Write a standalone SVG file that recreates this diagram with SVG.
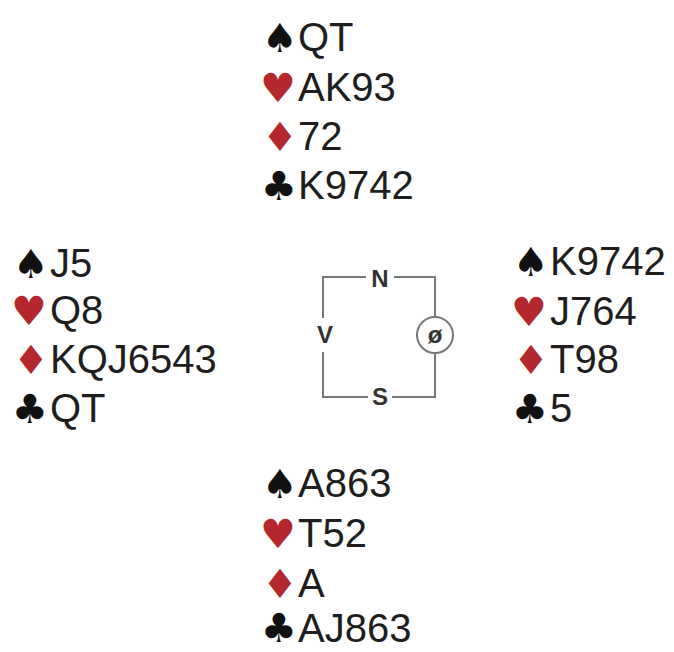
<svg xmlns="http://www.w3.org/2000/svg" width="674" height="652" viewBox="0 0 674 652">
<style>
.c{font-family:"Liberation Sans",Arial,sans-serif;font-size:40px;fill:#1e1e1e}
.s{font-family:"DejaVu Sans",sans-serif;font-size:40px;text-anchor:middle}
.b{fill:#111}
.r{fill:#b3272d}
.ln{stroke:#777;stroke-width:2;fill:none}
.d{font-family:"Liberation Sans",Arial,sans-serif;font-size:24px;font-weight:bold;fill:#333;text-anchor:middle}
</style>
<rect width="674" height="652" fill="#fff"/>
<g id="north">
<text class="s b" x="280" y="52">♠</text><text class="c" x="298" y="51">QT</text>
<text class="s r" x="278" y="102">♥</text><text class="c" x="298" y="101">AK93</text>
<text class="s r" x="280" y="151">♦</text><text class="c" x="298" y="150">72</text>
<text class="s b" x="279" y="200">♣</text><text class="c" x="298" y="199">K9742</text>
</g>
<g id="west">
<text class="s b" x="31" y="278">♠</text><text class="c" x="50" y="277">J5</text>
<text class="s r" x="29" y="325">♥</text><text class="c" x="50" y="324">Q8</text>
<text class="s r" x="31" y="374">♦</text><text class="c" x="50" y="373">KQJ6543</text>
<text class="s b" x="30" y="423">♣</text><text class="c" x="50" y="422">QT</text>
</g>
<g id="east">
<text class="s b" x="531" y="276">♠</text><text class="c" x="550" y="275">K9742</text>
<text class="s r" x="529" y="326">♥</text><text class="c" x="550" y="325">J764</text>
<text class="s r" x="531" y="374">♦</text><text class="c" x="550" y="373">T98</text>
<text class="s b" x="530" y="423">♣</text><text class="c" x="550" y="422">5</text>
</g>
<g id="south">
<text class="s b" x="280" y="498">♠</text><text class="c" x="298" y="497">A863</text>
<text class="s r" x="278" y="548">♥</text><text class="c" x="298" y="547">T52</text>
<text class="s r" x="280" y="598">♦</text><text class="c" x="298" y="597">A</text>
<text class="s b" x="279" y="642">♣</text><text class="c" x="298" y="642">AJ863</text>
</g>
<g id="compass">
<path class="ln" d="M366 277 H323 V318 M323 352 V397 H368 M392 397 H435 V353 M435 317 V277 H394"/>
<circle cx="435" cy="335" r="18" fill="#fff" stroke="#777" stroke-width="2"/>
<text class="d" x="380" y="287">N</text>
<text class="d" x="325" y="343">V</text>
<text class="d" x="380" y="405">S</text>
<text class="d" x="435" y="343" font-size="22">ø</text>
</g>
</svg>
